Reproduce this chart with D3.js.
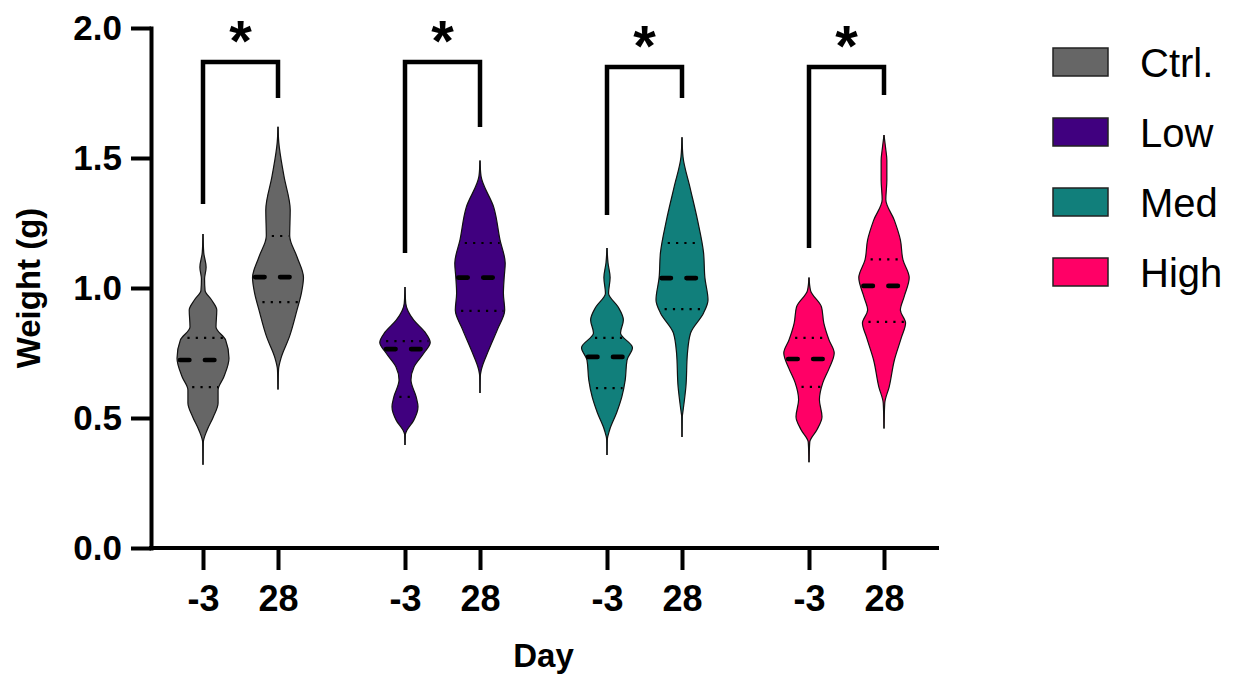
<!DOCTYPE html>
<html>
<head>
<meta charset="utf-8">
<script src="https://cdn.jsdelivr.net/npm/d3@7"></script>
<style>
  html, body { margin: 0; padding: 0; background: #fff; }
  svg text { font-family: "Liberation Sans", Arial, Helvetica, sans-serif; fill: #000; }
</style>
</head>
<body>
<svg id="chart" width="1242" height="681"></svg>
<script>
// ---- data ----
const groups = ["Ctrl.", "Low", "Med", "High"];
const days = ["-3", "28"];
const groupColors = ["#666666", "#40007f", "#117f7b", "#ff0066"];
const yTickValues = [0, 0.5, 1.0, 1.5, 2.0];

// Violin outlines: [weight (g), relative density], from the top of each violin down
const ctrlPre  = [[1.208,0],[1.135,0.03],[1.08,0.12],[1.035,0.06],[0.99,0.08],[0.954,0.33],[0.915,0.53],[0.85,0.5],[0.80,0.87],[0.73,1.0],[0.658,0.8],[0.608,0.58],[0.558,0.58],[0.505,0.4],[0.454,0.16],[0.404,0.01],[0.32,0]];
const ctrlPost = [[1.62,0],[1.56,0.03],[1.43,0.23],[1.30,0.47],[1.20,0.45],[1.12,0.73],[1.04,0.98],[0.98,0.9],[0.915,0.73],[0.81,0.43],[0.735,0.13],[0.685,0.02],[0.61,0]];
const lowPre   = [[1.004,0],[0.94,0.03],[0.877,0.33],[0.83,0.77],[0.79,0.97],[0.75,0.73],[0.697,0.35],[0.646,0.23],[0.581,0.43],[0.543,0.5],[0.49,0.33],[0.454,0.08],[0.435,0.01],[0.396,0]];
const lowPost  = [[1.49,0],[1.43,0.04],[1.31,0.53],[1.185,0.77],[1.095,0.97],[1.04,0.93],[0.98,0.9],[0.915,0.95],[0.84,0.67],[0.76,0.33],[0.685,0.05],[0.66,0.01],[0.596,0]];
const medPre   = [[1.154,0],[1.096,0.04],[1.04,0.12],[0.98,0.06],[0.927,0.43],[0.877,0.63],[0.827,0.52],[0.77,0.98],[0.723,0.77],[0.646,0.7],[0.581,0.57],[0.52,0.37],[0.454,0.1],[0.415,0.01],[0.358,0]];
const medPost  = [[1.58,0],[1.504,0.04],[1.39,0.3],[1.26,0.6],[1.135,0.83],[1.04,0.88],[0.954,1.0],[0.904,0.83],[0.827,0.33],[0.75,0.21],[0.62,0.15],[0.52,0.03],[0.505,0.01],[0.427,0]];
const highPre  = [[1.04,0],[0.99,0.06],[0.927,0.48],[0.865,0.57],[0.8,0.77],[0.75,0.97],[0.69,0.77],[0.635,0.53],[0.57,0.4],[0.505,0.5],[0.454,0.3],[0.408,0.03],[0.33,0]];
const highPost = [[1.588,0],[1.54,0.06],[1.49,0.11],[1.415,0.11],[1.34,0.07],[1.26,0.4],[1.185,0.63],[1.108,0.73],[1.04,0.97],[0.965,0.77],[0.915,0.63],[0.865,0.83],[0.81,0.67],[0.723,0.4],[0.62,0.2],[0.558,0.03],[0.46,0]];
const profiles = [[ctrlPre, ctrlPost], [lowPre, lowPost], [medPre, medPost], [highPre, highPost]];

// Summary lines per group: [day -3, day 28]
const medians   = [[0.723, 1.042], [0.765, 1.040], [0.735, 1.038], [0.727, 1.008]];
const quartile1 = [[0.619, 0.946], [0.581, 0.912], [0.615, 0.919], [0.620, 0.870]];
const quartile3 = [[0.808, 1.200], [0.796, 1.173], [0.808, 1.173], [0.808, 1.110]];

// Significance brackets (weight units): bar height, left leg end, right leg end
const bracketTop   = [1.869, 1.869, 1.850, 1.850];
const bracketLeft  = [1.323, 1.135, 1.281, 1.154];
const bracketRight = [1.731, 1.619, 1.731, 1.742];
const bracketLabel = ["*", "*", "*", "*"];

// ---- scales ----
const svg = d3.select("#chart");
const y = d3.scaleLinear().domain([0, 2]).range([548, 28]);
const xGroup = d3.scaleBand().domain(groups).range([139.5, 947.5]);
const xDay = d3.scalePoint().domain(days).range([-37.5, 37.5]);
const cx = (g, d) => xGroup(g) + xGroup.bandwidth() / 2 + xDay(d);
const halfWidth = d3.scaleLinear().domain([0, 1]).range([0, 26]);

function densityAt(profile, v) {
  for (let k = 0; k < profile.length - 1; k++) {
    const a = profile[k], b = profile[k + 1];
    if (v <= a[0] && v >= b[0]) {
      const t = (a[0] - v) / (a[0] - b[0]);
      return a[1] + t * (b[1] - a[1]);
    }
  }
  return 0;
}

// ---- significance brackets ----
groups.forEach((g, i) => {
  const xl = cx(g, days[0]), xr = cx(g, days[1]);
  svg.append("path")
    .attr("d", `M${xl},${y(bracketLeft[i])}V${y(bracketTop[i])}H${xr}V${y(bracketRight[i])}`)
    .attr("fill", "none").attr("stroke", "#000").attr("stroke-width", 4.5)
    .attr("stroke-linejoin", "miter");
  svg.append("text")
    .attr("x", (xl + xr) / 2).attr("y", y(bracketTop[i]) - 1)
    .attr("text-anchor", "middle")
    .style("font-size", "58px").style("font-weight", "bold")
    .text(bracketLabel[i]);
});

// ---- violins ----
groups.forEach((g, i) => {
  days.forEach((d, j) => {
    const prof = profiles[i][j];
    const c = cx(g, d);
    const vals = prof.map(p => p[0]);
    svg.append("line")
      .attr("x1", c).attr("x2", c)
      .attr("y1", y(d3.max(vals))).attr("y2", y(d3.min(vals)))
      .attr("stroke", "#222").attr("stroke-width", 1.4);
    const area = d3.area()
      .y(p => y(p[0]))
      .x0(p => c - halfWidth(p[1]))
      .x1(p => c + halfWidth(p[1]))
      .curve(d3.curveMonotoneY);
    svg.append("path")
      .attr("d", area(prof))
      .attr("fill", groupColors[i])
      .attr("stroke", "#111").attr("stroke-width", 1.2);

    // quartiles (dotted)
    [quartile1[i][j], quartile3[i][j]].forEach(q => {
      const h = halfWidth(densityAt(prof, q)) - 1;
      svg.append("line")
        .attr("x1", c - h).attr("x2", c + h)
        .attr("y1", y(q)).attr("y2", y(q))
        .attr("stroke", "#000").attr("stroke-width", 2.2)
        .attr("stroke-dasharray", "2.2,6.1").attr("stroke-dashoffset", 3.8);
    });

    // median (dashed)
    const m = medians[i][j];
    const hm = halfWidth(densityAt(prof, m));
    svg.append("line")
      .attr("x1", c - hm + 2.4).attr("x2", c + hm - 2)
      .attr("y1", y(m)).attr("y2", y(m))
      .attr("stroke", "#000").attr("stroke-width", 4.6)
      .attr("stroke-linecap", "round")
      .attr("stroke-dasharray", "9.5,15.5");
  });
});

// ---- y axis ----
const yAxis = svg.append("g")
  .attr("transform", "translate(151,0)")
  .call(d3.axisLeft(y).tickValues(yTickValues).tickFormat(d3.format(".1f"))
    .tickSize(20).tickSizeOuter(0).tickPadding(9));
yAxis.select(".domain").attr("stroke", "#000").attr("stroke-width", 4).attr("stroke-linecap", "square");
yAxis.selectAll(".tick line").attr("stroke", "#000").attr("stroke-width", 4);
yAxis.selectAll(".tick text")
  .style("font-size", "35px").style("font-weight", "bold")
  .style("font-family", "'Liberation Sans', Arial, sans-serif").attr("fill", "#000");

// ---- x axis ----
const xKeys = groups.flatMap(g => days.map(d => g + "|" + d));
const xTickScale = d3.scaleOrdinal().domain(xKeys)
  .range(xKeys.map(k => { const [g, d] = k.split("|"); return cx(g, d); }));
const xAxis = svg.append("g")
  .attr("transform", `translate(0,${y(0)})`)
  .call(d3.axisBottom(xTickScale).tickSize(22).tickSizeOuter(0).tickPadding(15)
    .tickFormat(k => k.split("|")[1]));
xAxis.select(".domain").remove();
xAxis.selectAll(".tick line").attr("stroke", "#000").attr("stroke-width", 4);
xAxis.selectAll(".tick text")
  .style("font-size", "36px").style("font-weight", "bold")
  .style("font-family", "'Liberation Sans', Arial, sans-serif").attr("fill", "#000");
svg.append("line")
  .attr("x1", 151).attr("x2", 937)
  .attr("y1", y(0)).attr("y2", y(0))
  .attr("stroke", "#000").attr("stroke-width", 4).attr("stroke-linecap", "square");

// ---- axis titles ----
svg.append("text")
  .attr("x", (xGroup.range()[0] + xGroup.range()[1]) / 2).attr("y", 667)
  .attr("text-anchor", "middle")
  .style("font-size", "33px").style("font-weight", "bold")
  .text("Day");
svg.append("text")
  .attr("transform", `translate(40,${y(1)}) rotate(-90)`)
  .attr("text-anchor", "middle")
  .style("font-size", "33px").style("font-weight", "bold")
  .text("Weight (g)");

// ---- legend ----
const legend = svg.append("g");
groups.forEach((g, i) => {
  const cy = 62 + 70 * i;
  legend.append("rect")
    .attr("x", 1053).attr("y", cy - 14).attr("width", 55).attr("height", 28)
    .attr("fill", groupColors[i]).attr("stroke", "#222").attr("stroke-width", 1.5);
  legend.append("text")
    .attr("x", 1140).attr("y", cy + 15)
    .style("font-size", "40px")
    .text(g);
});
</script>
</body>
</html>
